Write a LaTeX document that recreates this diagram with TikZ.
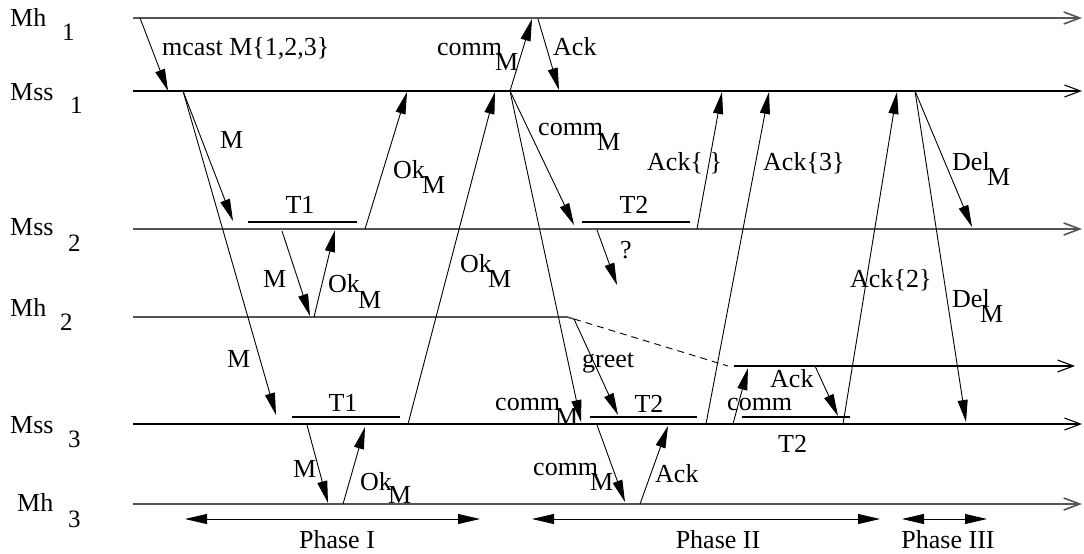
\documentclass[tikz,border=0pt]{standalone}
\usepackage{fontspec}
\setmainfont{Liberation Serif}
\usetikzlibrary{arrows.meta}
\definecolor{tlgray}{gray}{0.33}
\tikzset{
  tlg/.style={line width=1.6pt, draw=tlgray, -{Straight Barb[length=16pt,width=12pt]}},
  tlk/.style={line width=1.1pt, draw=black, -{Straight Barb[length=16pt,width=12pt]}},
  msg/.style={line width=0.9pt, -{Triangle[length=22pt,width=10pt]}},
  phase/.style={line width=0.9pt, {Triangle[length=22pt,width=10pt]}-{Triangle[length=22pt,width=10pt]}},
  tbar/.style={line width=2.8pt},
  lab/.style={inner sep=0pt, anchor=base west, font=\fontsize{26}{30}\selectfont},
  clab/.style={inner sep=0pt, anchor=base, font=\fontsize{26}{30}\selectfont},
  num/.style={inner sep=0pt, anchor=base west, font=\fontsize{25}{29}\selectfont}
}
\begin{document}
\begin{tikzpicture}[x=1pt,y=-1pt]
\useasboundingbox (0,0) rectangle (1084,554);

% ---------- process labels ----------
\node[lab] (nMh1) at (10,27) {Mh};   \node[num] (sMh1) at (62,40) {1};
\node[lab] (nMs1) at (10,100) {Mss}; \node[num] (sMs1) at (70,113) {1};
\node[lab] (nMs2) at (10,235) {Mss}; \node[num] (sMs2) at (68,251) {2};
\node[lab] (nMh2) at (10,316) {Mh};  \node[num] (sMh2) at (60,330) {2};
\node[lab] (nMs3) at (10,433) {Mss}; \node[num] (sMs3) at (68,447) {3};
\node[lab] (nMh3) at (17,511) {Mh};  \node[num] (sMh3) at (68,527) {3};

% ---------- timeline coordinates ----------
\coordinate (h1a) at (133,18);  \coordinate (h1b) at (1082,18);
\coordinate (s1a) at (133,91);  \coordinate (s1b) at (1082,91);
\coordinate (s2a) at (133,229); \coordinate (s2b) at (1082,229);
\coordinate (h2a) at (133,317); \coordinate (h2k) at (567,317); \coordinate (h2c) at (574,319);
\coordinate (h2d) at (728,366); \coordinate (h2e) at (734,366); \coordinate (h2f) at (1075,366);
\coordinate (s3a) at (133,424); \coordinate (s3b) at (1082,424);
\coordinate (h3a) at (133,504); \coordinate (h3b) at (1082,504);

\draw[tlg] (h1a) -- (h1b);
\draw[tlk] (s1a) -- (s1b);
\draw[tlg] (s2a) -- (s2b);
\draw[line width=1.6pt, draw=tlgray] (h2a) -- (h2k) -- (h2c);
\draw[line width=0.9pt, dashed, dash pattern=on 7pt off 5pt] (h2c) -- (h2d);
\draw[tlk] (h2e) -- (h2f);
\draw[tlk] (s3a) -- (s3b);
\draw[tlg] (h3a) -- (h3b);

% ---------- T bars ----------
\coordinate (t1aL) at (248,222); \coordinate (t1aR) at (357,222);
\coordinate (t1bL) at (292,417); \coordinate (t1bR) at (400,417);
\coordinate (t2aL) at (582,222); \coordinate (t2aR) at (690,222);
\coordinate (t2bL) at (590,417); \coordinate (t2bR) at (697,417);
\coordinate (t2cL) at (742,417); \coordinate (t2cR) at (850,417);
\draw[tbar] (t1aL) -- (t1aR);
\draw[tbar] (t1bL) -- (t1bR);
\draw[tbar] (t2aL) -- (t2aR);
\draw[tbar] (t2bL) -- (t2bR);
\draw[tbar] (t2cL) -- (t2cR);

% ---------- message endpoints ----------
\coordinate (a1s) at (140,18);  \coordinate (a1e) at (168,91);
\coordinate (a2s) at (183,91);  \coordinate (a2e) at (233,221);
\coordinate (a3e) at (276,415);
\coordinate (a4s) at (282,231); \coordinate (a4e) at (310,316);
\coordinate (a5s) at (314,317); \coordinate (a5e) at (335,230);
\coordinate (a6s) at (365,229); \coordinate (a6e) at (407,92);
\coordinate (a7s) at (307,425); \coordinate (a7e) at (328,503);
\coordinate (a8s) at (343,504); \coordinate (a8e) at (365,427);
\coordinate (a9s) at (408,424); \coordinate (a9e) at (495,92);
\coordinate (b1s) at (510,91);  \coordinate (b1e) at (532,19);
\coordinate (b2s) at (538,19);  \coordinate (b2e) at (559,90);
\coordinate (b3e) at (574,225);
\coordinate (b4e) at (581,422);
\coordinate (b5s) at (597,230); \coordinate (b5e) at (617,285);
\coordinate (b6s) at (697,229); \coordinate (b6e) at (722,92);
\coordinate (b7s) at (706,424); \coordinate (b7e) at (769,92);
\coordinate (b8e) at (618,415);
\coordinate (b9s) at (597,425); \coordinate (b9e) at (625,502);
\coordinate (b10s) at (640,504); \coordinate (b10e) at (668,426);
\coordinate (b11s) at (733,424); \coordinate (b11e) at (748,368);
\coordinate (b12s) at (815,366); \coordinate (b12e) at (838,416);
\coordinate (b13s) at (843,424); \coordinate (b13e) at (897,92);
\coordinate (c1s) at (915,91);  \coordinate (c1e) at (972,227);
\coordinate (c2e) at (966,422);

\draw[msg] (a1s) -- (a1e);
\draw[msg] (a2s) -- (a2e);
\draw[msg] (a2s) -- (a3e);
\draw[msg] (a4s) -- (a4e);
\draw[msg] (a5s) -- (a5e);
\draw[msg] (a6s) -- (a6e);
\draw[msg] (a7s) -- (a7e);
\draw[msg] (a8s) -- (a8e);
\draw[msg] (a9s) -- (a9e);
\draw[msg] (b1s) -- (b1e);
\draw[msg] (b2s) -- (b2e);
\draw[msg] (b1s) -- (b3e);
\draw[msg] (b1s) -- (b4e);
\draw[msg] (b5s) -- (b5e);
\draw[msg] (b6s) -- (b6e);
\draw[msg] (b7s) -- (b7e);
\draw[msg] (h2c) -- (b8e);
\draw[msg] (b9s) -- (b9e);
\draw[msg] (b10s) -- (b10e);
\draw[msg] (b11s) -- (b11e);
\draw[msg] (b12s) -- (b12e);
\draw[msg] (b13s) -- (b13e);
\draw[msg] (c1s) -- (c1e);
\draw[msg] (c1s) -- (c2e);

% ---------- message labels ----------
\node[lab] (lmc) at (162,55) {mcast M\{1,2,3\}};
\node[lab] (lM1) at (220,148) {M};
\node[clab] (lT1a) at (300,213) {T1};
\node[lab] (lOk1) at (393,178) {Ok}; \node[lab] (lOk1m) at (422,193) {M};
\node[lab] (lM2) at (263,287) {M};
\node[lab] (lOk2) at (328,292) {Ok}; \node[lab] (lOk2m) at (358,308) {M};
\node[lab] (lM3) at (227,367) {M};
\node[lab] (lOk4) at (460,272) {Ok}; \node[lab] (lOk4m) at (488,287) {M};
\node[clab] (lT1b) at (343,411) {T1};
\node[lab] (lM4) at (293,477) {M};
\node[lab] (lOk3) at (360,490) {Ok}; \node[lab] (lOk3m) at (388,503) {M};

\node[lab] (lc1) at (437,55) {comm}; \node[lab] (lc1m) at (495,70) {M};
\node[lab] (lA1) at (553,55) {Ack};
\node[lab] (lc2) at (538,135) {comm}; \node[lab] (lc2m) at (597,150) {M};
\node[clab] (lT2a) at (634,213) {T2};
\node[lab] (lq) at (620,258) {?};
\node[lab] (lA2) at (647,170) {Ack\{ \}};
\node[lab] (lA3) at (763,170) {Ack\{3\}};
\node[lab] (lgr) at (582,367) {greet};
\node[lab] (lc3) at (495,410) {comm}; \node[lab] (lc3m) at (555,425) {M};
\node[clab] (lT2b) at (649,412) {T2};
\node[lab] (lc4) at (533,475) {comm}; \node[lab] (lc4m) at (590,490) {M};
\node[lab] (lA4) at (655,482) {Ack};
\node[lab] (lc5) at (727,410) {comm};
\node[lab] (lA5) at (770,387) {Ack};
\node[lab] (lT2c) at (778,452) {T2};
\node[lab] (lA6) at (850,287) {Ack\{2\}};
\node[lab] (lD1) at (952,170) {Del}; \node[lab] (lD1m) at (987,185) {M};
\node[lab] (lD2) at (952,307) {Del}; \node[lab] (lD2m) at (980,322) {M};

% ---------- phases ----------
\coordinate (p1a) at (185,519); \coordinate (p1b) at (480,519);
\coordinate (p2a) at (532,519); \coordinate (p2b) at (880,519);
\coordinate (p3a) at (902,519); \coordinate (p3b) at (987,519);
\draw[phase] (p1a) -- (p1b);
\draw[phase] (p2a) -- (p2b);
\draw[phase] (p3a) -- (p3b);
\node[clab] (lp1) at (337,548) {Phase I};
\node[clab] (lp2) at (718,548) {Phase II};
\node[clab] (lp3) at (948,548) {Phase III};
\end{tikzpicture}
\end{document}
